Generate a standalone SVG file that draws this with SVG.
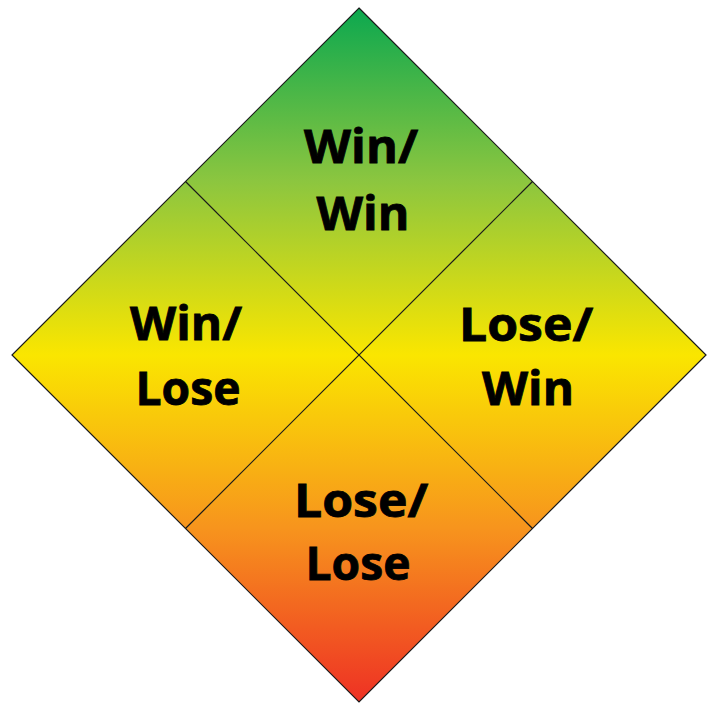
<svg xmlns="http://www.w3.org/2000/svg" width="708" height="704" viewBox="0 0 708 704">
<defs>
<linearGradient id="g" x1="0" y1="8" x2="0" y2="702" gradientUnits="userSpaceOnUse">
<stop offset="0" stop-color="#0ca84f"/>
<stop offset="0.25" stop-color="#8cc63f"/>
<stop offset="0.5" stop-color="#fae600"/>
<stop offset="0.75" stop-color="#f7941d"/>
<stop offset="1" stop-color="#ee3124"/>
</linearGradient>
<style>
.t{font-family:"Open Sans","Liberation Sans",sans-serif;font-weight:bold;font-size:46px;fill:#000;stroke:#000;stroke-width:0.8;text-anchor:middle}
.l{stroke:#1a1a1a;stroke-width:1.2;fill:none}
</style>
</defs>
<rect width="708" height="704" fill="#fff"/>
<polygon points="359,8 706,355 359,702 12,355" fill="url(#g)" stroke="#1a1a1a" stroke-width="1.2"/>
<g id="connectors">
<line class="l" x1="185.5" y1="181.5" x2="532.5" y2="528.5"/>
<line class="l" x1="532.5" y1="181.5" x2="185.5" y2="528.5"/>
</g>
<g id="winwin"><text class="t" x="361" y="163" textLength="114" lengthAdjust="spacingAndGlyphs">Win/</text><text class="t" x="363" y="230" textLength="93" lengthAdjust="spacingAndGlyphs">Win</text></g>
<g id="winlose"><text class="t" x="186" y="340" textLength="112" lengthAdjust="spacingAndGlyphs">Win/</text><text class="t" x="188" y="405" textLength="105" lengthAdjust="spacingAndGlyphs">Lose</text></g>
<g id="losewin"><text class="t" x="526" y="341" textLength="134" lengthAdjust="spacingAndGlyphs">Lose/</text><text class="t" x="528" y="405" textLength="92" lengthAdjust="spacingAndGlyphs">Win</text></g>
<g id="loselose"><text class="t" x="361" y="517" textLength="134" lengthAdjust="spacingAndGlyphs">Lose/</text><text class="t" x="358" y="580" textLength="105" lengthAdjust="spacingAndGlyphs">Lose</text></g>
</svg>
